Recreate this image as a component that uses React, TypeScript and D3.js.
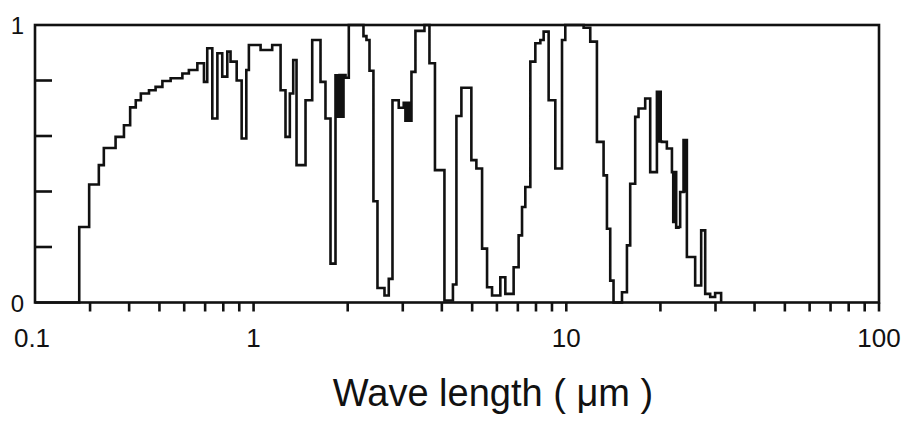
import React from 'react';
import * as d3 from 'd3';

// step starts: wavelength (um) and transmission (0..1)
const wavelength = [
  0.2, 0.277, 0.298, 0.32, 0.332, 0.362, 0.385, 0.403, 0.42, 0.436,
  0.463, 0.486, 0.511, 0.543, 0.592, 0.621, 0.661, 0.694, 0.711, 0.738,
  0.766, 0.794, 0.824, 0.844, 0.883, 0.916, 0.948, 0.966, 1.053, 1.147,
  1.22, 1.265, 1.306, 1.339, 1.372, 1.466, 1.54, 1.637, 1.698, 1.762,
  1.828, 1.855, 1.883, 1.911, 1.939, 1.968, 2.016, 2.246, 2.296, 2.348,
  2.417, 2.49, 2.622, 2.706, 2.781, 2.912, 3.021, 3.059, 3.105, 3.151,
  3.198, 3.293, 3.519, 3.651, 3.802, 4.077, 4.34, 4.453, 4.619, 4.971,
  5.158, 5.379, 5.58, 5.789, 6.153, 6.384, 6.786, 7.04, 7.219, 7.396,
  7.674, 7.962, 8.261, 8.464, 8.781, 9.224, 9.69, 9.927, 11.36, 11.93,
  12.53, 13.16, 13.49, 13.82, 14.16, 15.07, 15.63, 16.01, 16.61, 17.02,
  17.88, 18.55, 19.49, 19.68, 19.87, 20.04, 20.22, 20.97, 21.77, 21.98,
  22.22, 22.46, 22.85, 23.13, 23.71, 23.94, 24.12, 24.3, 25.83, 27.0,
  27.81, 28.85, 29.92, 31.27,
];

const transmission = [
  0, 0.272, 0.425, 0.495, 0.557, 0.597, 0.639, 0.703, 0.729, 0.753,
  0.765, 0.777, 0.798, 0.808, 0.825, 0.838, 0.862, 0.795, 0.916, 0.663,
  0.898, 0.814, 0.904, 0.868, 0.8, 0.591, 0.838, 0.928, 0.91, 0.928,
  0.765, 0.597, 0.753, 0.874, 0.495, 0.729, 0.946, 0.795, 0.663, 0.14,
  0.819, 0.67, 0.82, 0.67, 0.82, 0.81, 1.0, 0.96, 0.946, 0.835,
  0.365, 0.052, 0.025, 0.085, 0.729, 0.702, 0.72, 0.655, 0.72, 0.655,
  0.831, 0.979, 1.0, 0.862, 0.477, 0.007, 0.065, 0.672, 0.774, 0.513,
  0.483, 0.194, 0.055, 0.025, 0.091, 0.031, 0.127, 0.242, 0.344, 0.416,
  0.868, 0.934, 0.946, 0.976, 0.729, 0.483, 0.946, 1.0, 0.99, 0.94,
  0.579, 0.458, 0.266, 0.079, 0, 0.037, 0.206, 0.428, 0.669, 0.699,
  0.735, 0.47, 0.759, 0.58, 0.759, 0.58, 0.579, 0.555, 0.47, 0.29,
  0.47, 0.27, 0.272, 0.398, 0.585, 0.4, 0.585, 0.164, 0.061, 0.26,
  0.031, 0.02, 0.034, 0,
];

// the original labels the left edge "0.1"
const xLabelValues = [0.2, 1, 10, 100];
const xLabels = ['0.1', '1', '10', '100'];
const yLabelValues = [0, 1];
const yLabels = ['0', '1'];
const yTickValues = [0.2, 0.4, 0.6, 0.8];
const xTitle = 'Wave length ( \u03bcm )';

const W = 905;
const H = 422;
const left = 35;
const right = 879;
const top = 25;
const bottom = 302.5;
const font = '"Liberation Sans", Arial, Helvetica, sans-serif';
const ink = '#111';
const sw = 2.6;

export default function App() {
  const x = d3.scaleLog().domain([0.2, 100]).range([left, right]);
  const y = d3.scaleLinear().domain([0, 1]).range([bottom, top]);

  const points: [number, number][] = wavelength.map((w, i) => [w, transmission[i]]);
  const line = d3
    .line<[number, number]>()
    .x((d) => x(d[0]))
    .y((d) => y(d[1]))
    .curve(d3.curveStepAfter);

  const xTicks = x.ticks().filter((t) => t > 0.2 + 1e-9);

  return (
    <svg
      width={W}
      height={H}
      style={{ position: 'absolute', left: 0, top: 0, background: '#fff' }}
    >
      <rect x={0} y={0} width={W} height={H} fill="#fff" />
      <path d={line(points) || ''} fill="none" stroke={ink} strokeWidth={sw} strokeLinejoin="miter" />
      <rect
        x={left}
        y={top}
        width={right - left}
        height={bottom - top}
        fill="none"
        stroke={ink}
        strokeWidth={sw}
      />
      {xTicks.map((t) => (
        <line key={t} x1={x(t)} x2={x(t)} y1={bottom} y2={bottom + 9} stroke={ink} strokeWidth={sw} />
      ))}
      {yTickValues.map((t) => (
        <line key={t} x1={left} x2={left + 17} y1={y(t)} y2={y(t)} stroke={ink} strokeWidth={sw} />
      ))}
      {xLabelValues.map((v, i) => (
        <text
          key={v}
          x={x(v) - (i === 0 ? 3 : 0)}
          y={347}
          textAnchor="middle"
          fontFamily={font}
          fontSize={26}
          fill={ink}
        >
          {xLabels[i]}
        </text>
      ))}
      {yLabelValues.map((v, i) => (
        <text
          key={v}
          x={24}
          y={y(v) + 9}
          textAnchor="end"
          fontFamily={font}
          fontSize={24}
          fill={ink}
        >
          {yLabels[i]}
        </text>
      ))}
      <text x={493} y={406} textAnchor="middle" fontFamily={font} fontSize={38} fill={ink}>
        {xTitle}
      </text>
    </svg>
  );
}
